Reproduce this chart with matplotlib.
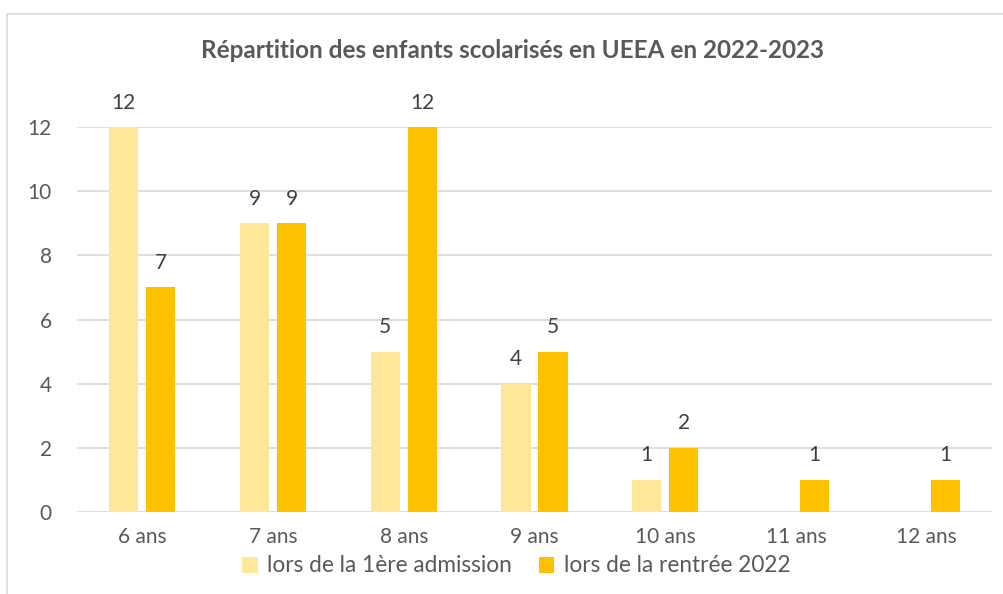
import numpy as np
import matplotlib.pyplot as plt
from matplotlib.patches import Rectangle

ages = ["6 ans", "7 ans", "8 ans", "9 ans", "10 ans", "11 ans", "12 ans"]
premiere_admission = [12, 9, 5, 4, 1, np.nan, np.nan]
rentree_2022 = [7, 9, 12, 5, 2, 1, 1]
titre = "Répartition des enfants scolarisés en UEEA en 2022-2023"

gris = "#595959"
plt.rcParams['font.family'] = ['Lato', 'DejaVu Sans']

fig = plt.figure(figsize=(10.04, 5.94), dpi=100)
ax = fig.add_axes([77 / 1004, 1 - 512 / 594, 915 / 1004, (512 - 127) / 594])

x = np.arange(len(ages))
w = 0.222
off = 0.1415
b1 = ax.bar(x - off, premiere_admission, w, color="#FFE699", label="lors de la 1ère admission", zorder=3)
b2 = ax.bar(x + off, rentree_2022, w, color="#FFC000", label="lors de la rentrée 2022", zorder=3)

for bars, vals in ((b1, premiere_admission), (b2, rentree_2022)):
    for rect, v in zip(bars, vals):
        if np.isnan(v):
            continue
        ax.text(rect.get_x() + rect.get_width() / 2, v + 0.45, f"{int(v)}",
                ha="center", va="bottom", fontsize=15, color="#404040")

ax.set_xlim(-0.5, len(ages) - 0.5)
ax.set_ylim(0, 12)
ax.set_yticks(range(0, 13, 2))
ax.set_xticks(x, ages)
ax.grid(axis="y", color="#D9D9D9", linewidth=1.2, zorder=0)
ax.set_axisbelow(True)
for s in ax.spines.values():
    s.set_visible(False)
ax.tick_params(length=0, labelsize=15, colors=gris)
ax.tick_params(axis="x", pad=11)
ax.tick_params(axis="y", pad=18)

fig.text(513 / 1004, 1 - 50 / 594, titre, ha="center", va="center",
         fontsize=17.5, fontweight="bold", color=gris)

leg = fig.legend(loc="center", bbox_to_anchor=(516 / 1004, 1 - 566 / 594), ncol=2,
                 frameon=False, fontsize=16.3, labelcolor=gris, handlelength=0.7,
                 handleheight=0.7, handletextpad=0.4, columnspacing=1.2)

# bordure du graphique
fig.add_artist(Rectangle((7 / 1004, -0.1), 1.1, 1 - 14 / 594 + 0.1, transform=fig.transFigure,
                         fill=False, edgecolor="#D9D9D9", linewidth=1.2))

fig.savefig("out.png", dpi=100)
